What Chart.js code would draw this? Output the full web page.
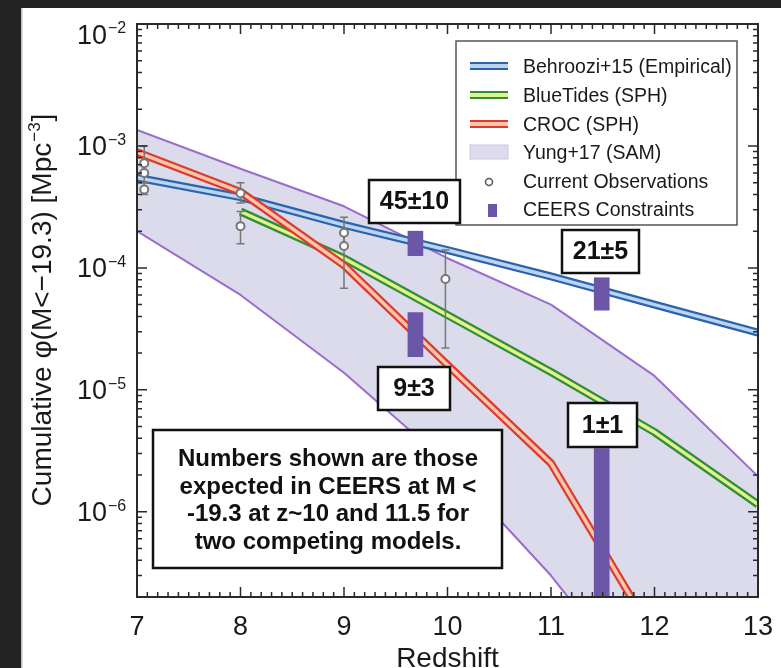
<!DOCTYPE html>
<html>
<head>
<meta charset="utf-8">
<script src="https://cdn.jsdelivr.net/npm/chart.js@4"></script>
<style>
  html, body { margin: 0; padding: 0; background: #232323; }
  canvas { display: block; }
</style>
</head>
<body>
<canvas id="chart" width="781" height="668"></canvas>
<script>
// model curves, sampled at integer redshift
const redshift = [7, 8, 9, 10, 11, 12, 13];
const behroozi = [5.5e-4, 3.8e-4, 2.25e-4, 1.4e-4, 8.5e-5, 5.0e-5, 2.95e-5];
const blueTides = [null, 2.9e-4, 1.2e-4, 4.1e-5, 1.4e-5, 4.5e-6, 1.15e-6];
const croc = [8.9e-4, 4.2e-4, 1.05e-4, 1.6e-5, 2.5e-6, 9.5e-8, null];
const yungUpper = [1.35e-3, 6.5e-4, 3.2e-4, 1.2e-4, 5.0e-5, 1.3e-5, 1.95e-6];
const yungLower = [2.0e-4, 6.0e-5, 1.38e-5, 2.5e-6, 3.0e-7, 2.5e-8, 1.5e-9];

// current observations with error bars
const obsZ = [7.07, 7.07, 7.07, 8.0, 8.0, 9.0, 9.0, 9.98];
const obsPhi = [7.2e-4, 6.0e-4, 4.4e-4, 4.1e-4, 2.2e-4, 1.94e-4, 1.51e-4, 8.1e-5];
const obsLo = [6.0e-4, 5.0e-4, 4.0e-4, 3.4e-4, 1.58e-4, 1.5e-4, 6.8e-5, 2.2e-5];
const obsHi = [1.0e-3, 7.2e-4, 5.0e-4, 5.0e-4, 2.9e-4, 2.6e-4, 1.94e-4, 1.4e-4];

// CEERS constraints (floating bars)
const ceersZ = [9.69, 9.69, 11.49, 11.49];
const ceersLo = [1.26e-4, 1.87e-5, 4.5e-5, 1e-8];
const ceersHi = [2.0e-4, 4.3e-5, 8.3e-5, 3.3e-6];

// axis ticks
const xTicks = [7, 8, 9, 10, 11, 12, 13];
const yDecades = [-2, -3, -4, -5, -6];

const notes = [
    { text: '45±10', box: [369, 180, 91, 43] },
    { text: '21±5', box: [562, 230, 77, 43] },
    { text: '9±3', box: [378, 367, 72, 43] },
    { text: '1±1', box: [568, 403, 69, 44] }
];
const bigNote = ['Numbers shown are those', 'expected in CEERS at M <', '-19.3 at z~10 and 11.5 for', 'two competing models.'];

const legendItems = [
    { label: 'Behroozi+15 (Empirical)', kind: 'line', dark: '#2d62ad', light: '#b9d5f0' },
    { label: 'BlueTides (SPH)', kind: 'line', dark: '#2f8d3b', light: '#e2f28c' },
    { label: 'CROC (SPH)', kind: 'line', dark: '#dc3b2e', light: '#f9c6ab' },
    { label: 'Yung+17 (SAM)', kind: 'band' },
    { label: 'Current Observations', kind: 'obs' },
    { label: 'CEERS Constraints', kind: 'bar' }
];

const FONT = '"Liberation Sans", Arial, Helvetica, sans-serif';
const PURPLE = '#9a6ccb';
const BAND = 'rgba(205, 205, 228, 0.72)';
const BAR = '#6b56a8';
const OBS = '#777777';

const pts = (ys) => redshift.map((z, i) => ({ x: z, y: ys[i] }));

function lineSet(ys, color, width, order) {
    return {
        type: 'line', data: pts(ys), borderColor: color, borderWidth: width,
        pointRadius: 0, tension: 0, fill: false, spanGaps: false, order: order,
        borderJoinStyle: 'round'
    };
}

const datasets = [
    Object.assign(lineSet(yungUpper, PURPLE, 2, 20), { fill: '+1', backgroundColor: BAND }),
    lineSet(yungLower, PURPLE, 2, 19),
    lineSet(behroozi, '#2d62ad', 8, 17),
    lineSet(behroozi, '#b9d5f0', 3.5, 16),
    lineSet(blueTides, '#2f8d3b', 8, 15),
    lineSet(blueTides, '#e2f28c', 3.5, 14),
    lineSet(croc, '#dc3b2e', 8, 13),
    lineSet(croc, '#f9c6ab', 3.5, 12),
    {
        type: 'bar',
        data: ceersZ.map((z, i) => ({ x: z, y: [ceersLo[i], ceersHi[i]] })),
        backgroundColor: BAR, borderWidth: 0, barThickness: 15, order: 5
    },
    {
        type: 'line',
        data: obsZ.map((z, i) => ({ x: z, y: obsPhi[i] })),
        showLine: false, pointRadius: 4, pointBorderWidth: 2,
        pointBorderColor: OBS, pointBackgroundColor: '#ffffff', order: 1
    }
];
const OBS_INDEX = datasets.length - 1;

function sup(ctx, base, exp, x, y, size, supSize, align) {
    // draws base text with superscript exponent; x is the right edge of base when align == 'right'
    ctx.font = size + 'px ' + FONT;
    const bw = ctx.measureText(base).width;
    ctx.font = supSize + 'px ' + FONT;
    const ew = ctx.measureText(exp).width;
    let x0 = align === 'right' ? x - bw : x;
    ctx.font = size + 'px ' + FONT;
    ctx.textAlign = 'left';
    ctx.fillText(base, x0, y);
    ctx.font = supSize + 'px ' + FONT;
    ctx.fillText(exp, x0 + bw + 1, y - size * 0.38);
    return bw + ew;
}

const overlay = {
    id: 'overlay',
    beforeDraw(chart) {
        const ctx = chart.ctx;
        ctx.save();
        ctx.fillStyle = '#232323';
        ctx.fillRect(0, 0, chart.width, chart.height);
        ctx.fillStyle = '#ffffff';
        ctx.fillRect(22, 8, chart.width - 22, chart.height - 8);
        ctx.fillStyle = '#bdbdbd';
        ctx.fillRect(21, 8, 1.5, chart.height - 8);
        ctx.restore();
    },
    beforeDatasetDraw(chart, args) {
        if (args.index !== OBS_INDEX) return;
        const ctx = chart.ctx, xs = chart.scales.x, ys = chart.scales.y;
        ctx.save();
        ctx.strokeStyle = OBS;
        ctx.lineWidth = 1.5;
        obsZ.forEach((z, i) => {
            const px = xs.getPixelForValue(z);
            const y1 = ys.getPixelForValue(obsLo[i]);
            const y2 = ys.getPixelForValue(obsHi[i]);
            ctx.beginPath();
            ctx.moveTo(px, y1); ctx.lineTo(px, y2);
            ctx.moveTo(px - 4, y1); ctx.lineTo(px + 4, y1);
            ctx.moveTo(px - 4, y2); ctx.lineTo(px + 4, y2);
            ctx.stroke();
        });
        ctx.restore();
    },
    afterDraw(chart) {
        const ctx = chart.ctx, a = chart.chartArea;
        const xs = chart.scales.x, ys = chart.scales.y;
        ctx.save();

        // frame
        ctx.strokeStyle = '#2a2a2a';
        ctx.lineWidth = 2;
        ctx.strokeRect(a.left, a.top, a.right - a.left, a.bottom - a.top);

        // inward ticks on all four sides
        ctx.lineWidth = 1.5;
        ctx.beginPath();
        for (let k = 70; k <= 130; k++) {
            const px = xs.getPixelForValue(k / 10);
            const len = k % 10 === 0 ? 10 : 5;
            ctx.moveTo(px, a.bottom); ctx.lineTo(px, a.bottom - len);
            ctx.moveTo(px, a.top); ctx.lineTo(px, a.top + len);
        }
        for (let d = -7; d <= -2; d++) {
            for (let m = 1; m <= 9; m++) {
                const v = m * Math.pow(10, d);
                if (v < ys.min * 0.999 || v > ys.max * 1.001) continue;
                const py = ys.getPixelForValue(v);
                const len = m === 1 ? 10 : 5;
                ctx.moveTo(a.left, py); ctx.lineTo(a.left + len, py);
                ctx.moveTo(a.right, py); ctx.lineTo(a.right - len, py);
            }
        }
        ctx.stroke();

        // tick labels
        ctx.fillStyle = '#1a1a1a';
        ctx.font = '27px ' + FONT;
        ctx.textAlign = 'center';
        ctx.textBaseline = 'alphabetic';
        xTicks.forEach(t => ctx.fillText(String(t), xs.getPixelForValue(t), 635));
        yDecades.forEach(d => {
            const py = Math.max(ys.getPixelForValue(Math.pow(10, d)), a.top + 10);
            sup(ctx, '10', '\u2212' + (-d), 107, py + 9.5, 27, 16, 'right');
        });

        // axis titles
        ctx.font = '28px ' + FONT;
        ctx.textAlign = 'center';
        ctx.fillText('Redshift', (a.left + a.right) / 2, 667);

        ctx.save();
        ctx.translate(51, 310);
        ctx.rotate(-Math.PI / 2);
        const t1 = 'Cumulative \u03C6(M<\u221219.3) [Mpc';
        ctx.font = '28px ' + FONT;
        const w1 = ctx.measureText(t1).width;
        ctx.font = '17px ' + FONT;
        const w2 = ctx.measureText('\u22123').width;
        ctx.font = '28px ' + FONT;
        const w3 = ctx.measureText(']').width;
        let x0 = -(w1 + w2 + w3 + 2) / 2;
        ctx.textAlign = 'left';
        ctx.fillText(t1, x0, 0);
        ctx.font = '17px ' + FONT;
        ctx.fillText('\u22123', x0 + w1 + 1, -11);
        ctx.font = '28px ' + FONT;
        ctx.fillText(']', x0 + w1 + w2 + 2, 0);
        ctx.restore();

        // legend
        ctx.fillStyle = '#ffffff';
        ctx.fillRect(456, 41, 281, 184);
        ctx.strokeStyle = '#555555';
        ctx.lineWidth = 1.5;
        ctx.strokeRect(456, 41, 281, 184);
        const rows = [67, 96, 125, 153, 182, 210];
        legendItems.forEach((it, i) => {
            const cy = rows[i];
            if (it.kind === 'line') {
                ctx.fillStyle = it.dark;
                ctx.fillRect(470, cy - 5, 38, 8);
                ctx.fillStyle = it.light;
                ctx.fillRect(470, cy - 3, 38, 4);
            } else if (it.kind === 'band') {
                ctx.fillStyle = '#dcdcee';
                ctx.fillRect(470, cy - 8, 38, 14);
                ctx.strokeStyle = '#cfc6e6';
                ctx.lineWidth = 1;
                ctx.strokeRect(470, cy - 8, 38, 14);
            } else if (it.kind === 'obs') {
                ctx.beginPath();
                ctx.arc(489, cy, 3.5, 0, Math.PI * 2);
                ctx.fillStyle = '#ffffff';
                ctx.fill();
                ctx.strokeStyle = '#555555';
                ctx.lineWidth = 1.5;
                ctx.stroke();
            } else {
                ctx.fillStyle = BAR;
                ctx.fillRect(488, cy - 6, 9, 13);
            }
            ctx.fillStyle = '#1a1a1a';
            ctx.font = '19.5px ' + FONT;
            ctx.textAlign = 'left';
            ctx.textBaseline = 'middle';
            ctx.fillText(it.label, 523, cy + 1);
        });

        // number boxes
        ctx.textAlign = 'center';
        ctx.textBaseline = 'middle';
        notes.forEach(n => {
            const [bx, by, bw, bh] = n.box;
            ctx.fillStyle = '#ffffff';
            ctx.fillRect(bx, by, bw, bh);
            ctx.strokeStyle = '#111111';
            ctx.lineWidth = 2.5;
            ctx.strokeRect(bx, by, bw, bh);
            ctx.fillStyle = '#111111';
            ctx.font = 'bold 25px ' + FONT;
            ctx.fillText(n.text, bx + bw / 2, by + bh / 2 + 1);
        });

        // explanatory box
        ctx.fillStyle = '#ffffff';
        ctx.fillRect(153, 430, 349, 138);
        ctx.strokeStyle = '#111111';
        ctx.lineWidth = 2.5;
        ctx.strokeRect(153, 430, 349, 138);
        ctx.fillStyle = '#111111';
        ctx.font = 'bold 24px ' + FONT;
        ctx.textBaseline = 'alphabetic';
        bigNote.forEach((line, i) => ctx.fillText(line, 328, 466 + i * 27.7));

        ctx.restore();
    }
};

new Chart(document.getElementById('chart'), {
    type: 'line',
    data: { datasets: datasets },
    options: {
        responsive: false,
        animation: false,
        devicePixelRatio: 1,
        layout: { padding: { left: 137, right: 23, top: 24, bottom: 71 } },
        plugins: { legend: { display: false }, tooltip: { enabled: false } },
        scales: {
            x: {
                type: 'linear', min: 7, max: 13, offset: false,
                grid: { display: false, drawTicks: false },
                border: { display: false },
                ticks: { display: false }
            },
            y: {
                type: 'logarithmic', min: 2e-7, max: 1e-2,
                grid: { display: false, drawTicks: false },
                border: { display: false },
                ticks: { display: false }
            }
        }
    },
    plugins: [overlay]
});
</script>
</body>
</html>
